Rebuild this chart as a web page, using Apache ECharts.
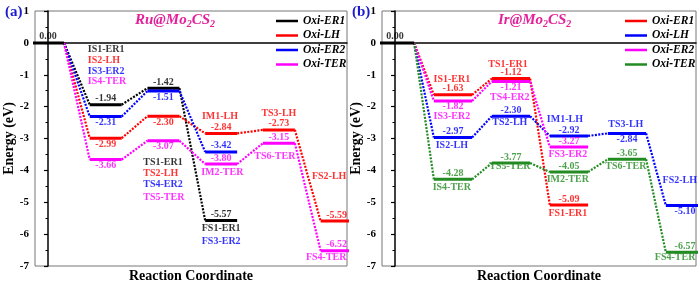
<!DOCTYPE html>
<html>
<head>
<meta charset="utf-8">
<script src="https://cdn.jsdelivr.net/npm/echarts@6/dist/echarts.min.js"></script>
<style>
  html, body { margin: 0; padding: 0; background: #fff; }
  #chart { width: 700px; height: 284px; }
</style>
</head>
<body>
<div id="chart"></div>
<script>
// energies (eV) along reaction coordinate, index = step
const ruER1 = [0.00, -1.94, -1.42, -5.57];
const ruLH  = [0.00, -2.99, -2.30, -2.84, -2.73, -5.59];
const ruER2 = [0.00, -2.31, -1.51, -3.42];
const ruTER = [0.00, -3.66, -3.07, -3.80, -3.15, -6.52];

const irER1 = [0.00, -1.63, -1.12, -5.09];
const irLH  = [0.00, -2.97, -2.30, -2.92, -2.84, -5.10];
const irER2 = [0.00, -1.82, -1.21, -3.27];
const irTER = [0.00, -4.28, -3.77, -4.05, -3.65, -6.57];

const pathNames = ["Oxi-ER1", "Oxi-LH", "Oxi-ER2", "Oxi-TER"];
const yTicks = [1, 0, -1, -2, -3, -4, -5, -6, -7];

// state names [text, pathway index]
const ruLabels = [
  ["IS1-ER1", 0], ["IS2-LH", 1], ["IS3-ER2", 2], ["IS4-TER", 3],
  ["TS1-ER1", 0], ["TS2-LH", 1], ["TS4-ER2", 2], ["TS5-TER", 3],
  ["IM1-LH", 1], ["TS3-LH", 1], ["IM2-TER", 3], ["TS6-TER", 3],
  ["FS1-ER1", 0], ["FS3-ER2", 2], ["FS2-LH", 1], ["FS4-TER", 3]
];
const irLabels = [
  ["IS1-ER1", 0], ["IS3-ER2", 2], ["IS2-LH", 1], ["IS4-TER", 3],
  ["TS1-ER1", 0], ["TS4-ER2", 2], ["TS2-LH", 1], ["TS5-TER", 3],
  ["IM1-LH", 1], ["FS3-ER2", 2], ["IM2-TER", 3], ["FS1-ER1", 0],
  ["TS3-LH", 1], ["TS6-TER", 3], ["FS2-LH", 1], ["FS4-TER", 3]
];

// ---- layout / style (not data) ----
const ruColors = ["#000000", "#ff0000", "#0000ff", "#ff00ff"];
const irColors = ["#ff0000", "#0000ff", "#ff00ff", "#228b22"];
// where each energy value sits relative to its level
const ruSides = [
  ["top", "top", "top", "top"],
  ["top", "bottom", "bottom", "top", "top", "top"],
  ["top", "bottom", "bottom", "top"],
  ["top", "bottom", "bottom", "top", "top", "top"]
];
const irSides = [
  ["top", "top", "top", "top"],
  ["top", "top", "top", "top", "bottom", "bottom"],
  ["top", "bottom", "bottom", "top"],
  ["top", "top", "top", "top", "top", "top"]
];
// name label positions [x (step), y (eV), align]
const ruLabelPos = [
  [0.69, -0.20, "left"], [0.69, -0.56, "left"], [0.69, -0.88, "left"], [0.69, -1.22, "left"],
  [1.65, -3.74, "left"], [1.65, -4.09, "left"], [1.65, -4.45, "left"], [1.65, -4.84, "left"],
  [2.98, -2.32, "center"], [4.0, -2.20, "center"], [3.02, -4.05, "center"], [3.93, -3.57, "center"],
  [3.0, -5.83, "center"], [3.0, -6.24, "center"], [4.87, -4.20, "center"], [4.82, -6.74, "center"]
];
const irLabelPos = [
  [0.98, -1.16, "center"], [0.98, -2.32, "center"], [0.98, -3.23, "center"], [0.98, -4.52, "center"],
  [1.95, -0.69, "center"], [1.98, -1.70, "center"], [1.98, -2.51, "center"], [1.98, -3.89, "center"],
  [2.93, -2.39, "center"], [2.98, -3.51, "center"], [2.98, -4.27, "center"], [2.98, -5.36, "center"],
  [3.98, -2.57, "center"], [3.98, -3.89, "center"], [4.91, -4.33, "center"], [4.83, -6.74, "center"]
];

const serif = "'Liberation Serif', 'Times New Roman', serif";

function buildPanel(gi, paths, colors, hw, sides, labels, labelPos) {
  const out = [];
  // common starting level
  out.push({
    type: "line", xAxisIndex: gi, yAxisIndex: gi, symbol: "none", silent: true, z: 5,
    data: [[-hw, 0], [hw, 0]],
    lineStyle: { color: "#000", width: 3 }
  });
  out.push({
    type: "scatter", xAxisIndex: gi, yAxisIndex: gi, symbolSize: 0, silent: true, z: 6,
    data: [[0, paths[0][0]]],
    label: {
      show: true, position: "top", distance: 1, color: "#000",
      fontFamily: serif, fontWeight: "bold", fontSize: 10,
      formatter: (p) => p.value[1].toFixed(2)
    }
  });
  paths.forEach((p, k) => {
    const lvl = [];
    const link = [];
    p.forEach((e, i) => {
      if (i > 0) lvl.push([i - hw, e], [i + hw, e], [i + hw, "-"]);
      if (i < p.length - 1) link.push([i + hw, e], [i + 1 - hw, p[i + 1]], [i + 1 - hw, "-"]);
    });
    out.push({
      name: pathNames[k], type: "line", xAxisIndex: gi, yAxisIndex: gi,
      symbol: "none", silent: true, z: 4, color: colors[k],
      data: lvl, lineStyle: { color: colors[k], width: 3 }
    });
    out.push({
      type: "line", xAxisIndex: gi, yAxisIndex: gi, symbol: "none", silent: true, z: 3,
      data: link, lineStyle: { color: colors[k], width: 2.2, type: [2, 1.4] }
    });
    out.push({
      type: "scatter", xAxisIndex: gi, yAxisIndex: gi, symbolSize: 0, silent: true, z: 6,
      data: p.map((e, i) => ({ value: [i, e], label: { position: sides[k][i] } })).slice(1),
      label: {
        show: true, distance: 1, color: colors[k],
        fontFamily: serif, fontWeight: "bold", fontSize: 10,
        formatter: (q) => q.value[1].toFixed(2)
      }
    });
  });
  out.push({
    type: "scatter", xAxisIndex: gi, yAxisIndex: gi, symbolSize: 0, silent: true, z: 6,
    data: labels.map((l, i) => ({
      value: [labelPos[i][0], labelPos[i][1]],
      name: l[0],
      label: { color: colors[l[1]], align: labelPos[i][2] }
    })),
    label: {
      show: true, position: "inside",
      fontFamily: serif, fontWeight: "bold", fontSize: 10,
      formatter: "{b}"
    }
  });
  return out;
}

function xAxisOf(gi, min, max) {
  return {
    type: "value", gridIndex: gi, min: min, max: max,
    axisLabel: { show: false }, axisTick: { show: false }, splitLine: { show: false },
    axisLine: { lineStyle: { color: "#000", width: 1.5 } },
    name: "Reaction Coordinate", nameLocation: "middle", nameGap: 3,
    nameTextStyle: { fontFamily: serif, fontWeight: "bold", fontSize: 14, color: "#000" }
  };
}

function yAxisOf(gi) {
  return {
    type: "value", gridIndex: gi, min: -7, max: 1, interval: 1,
    axisLine: { show: true, lineStyle: { color: "#000", width: 1.5 } },
    axisTick: { show: true, length: 4, lineStyle: { color: "#000", width: 1.2 } },
    minorTick: { show: true, splitNumber: 2, length: 2.5, lineStyle: { color: "#000", width: 1 } },
    splitLine: { show: false },
    axisLabel: {
      margin: 6, color: "#000", fontFamily: serif, fontWeight: "bold", fontSize: 11,
      formatter: (v) => (yTicks.indexOf(v) >= 0 ? String(v) : "")
    },
    name: "Energy (eV)", nameLocation: "middle", nameGap: 19,
    nameTextStyle: { fontFamily: serif, fontWeight: "bold", fontSize: 14, color: "#000" }
  };
}

function legendOf(left, colors) {
  return {
    orient: "vertical", left: left, top: 15, itemWidth: 22, itemHeight: 2.5,
    itemGap: 2.5, icon: "rect", selectedMode: false, padding: 0,
    textStyle: { fontFamily: serif, fontWeight: "bold", fontStyle: "italic", fontSize: 11.5, color: "#000" },
    data: pathNames.map((n, k) => ({ name: n, itemStyle: { color: colors[k] }, lineStyle: { color: colors[k] } }))
  };
}

const titleRich = {
  m: { fontFamily: serif, fontWeight: "bold", fontStyle: "italic", fontSize: 15, color: "#e4209a" },
  s: { fontFamily: serif, fontWeight: "bold", fontStyle: "italic", fontSize: 10, color: "#e4209a", padding: [7, 0, 0, 0] }
};

const option = {
  animation: false,
  backgroundColor: "#fff",
  title: [
    { text: "(a)", left: 5, top: 5, padding: 0, textStyle: { fontFamily: serif, fontWeight: "bold", fontSize: 15, color: "#1a1acc" } },
    { text: "(b)", left: 352, top: 5, padding: 0, textStyle: { fontFamily: serif, fontWeight: "bold", fontSize: 15, color: "#1a1acc" } },
    { text: "{m|Ru@Mo}{s|2}{m|CS}{s|2}", left: 135, top: 12, padding: 0, textStyle: { rich: titleRich } },
    { text: "{m|Ir@Mo}{s|2}{m|CS}{s|2}", left: 498, top: 12, padding: 0, textStyle: { rich: titleRich } }
  ],
  legend: [legendOf(276, ruColors), legendOf(625, irColors)],
  grid: [
    { left: 35, top: 11, width: 312, height: 255, show: true, borderColor: "#777", borderWidth: 1, outerBoundsMode: "none" },
    { left: 382, top: 11, width: 314, height: 255, show: true, borderColor: "#777", borderWidth: 1, outerBoundsMode: "none" }
  ],
  xAxis: [xAxisOf(0, -0.225, 5.18), xAxisOf(1, -0.224, 5.19)],
  yAxis: [yAxisOf(0), yAxisOf(1)],
  series: [].concat(
    buildPanel(0, [ruER1, ruLH, ruER2, ruTER], ruColors, 0.277, ruSides, ruLabels, ruLabelPos),
    buildPanel(1, [irER1, irLH, irER2, irTER], irColors, 0.33, irSides, irLabels, irLabelPos)
  )
};

const chart = echarts.init(document.getElementById("chart"), null, { renderer: "canvas" });
chart.setOption(option);
</script>
</body>
</html>
